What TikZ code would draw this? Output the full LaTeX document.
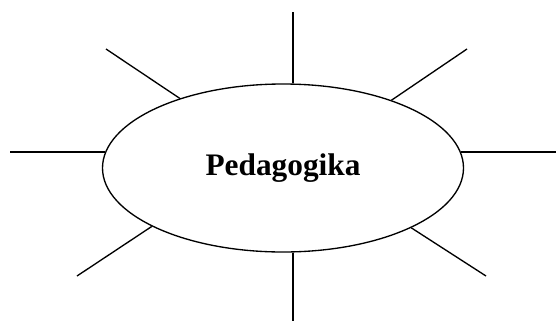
\documentclass[tikz,border=0pt]{standalone}
\usepackage{fontspec}
\setmainfont{Liberation Serif}
\usetikzlibrary{shapes,shapes.geometric,calc,positioning}
\tikzset{
  topic/.style={ellipse, draw, line width=1pt, inner sep=0pt,
    minimum width=270.75pt, minimum height=126pt,
    font=\bfseries\fontsize{23.5}{28}\selectfont}
}

\begin{document}
\begin{tikzpicture}[x=0.75pt, y=-0.75pt,
    spoke/.style={line width=1pt}
  ]
  \useasboundingbox (0,0) rectangle (557,322);

  \node[topic] (ped) at (283,168) {Pedagogika};

  \coordinate (n)  at (293,12);
  \coordinate (s)  at (293,321);
  \coordinate (w)  at (10,152);
  \coordinate (e)  at (556,152);
  \coordinate (nw) at (106,49);
  \coordinate (ne) at (467,49);
  \coordinate (sw) at (77,276);
  \coordinate (se) at (486,276);

  \draw[spoke] (n |- ped.north) -- (n);
  \draw[spoke] (s |- ped.south) -- (s);
  \draw[spoke] (ped.175 |- w) -- (w);
  \draw[spoke] (ped.5 |- e) -- (e);
  \draw[spoke] (ped.146) -- (nw);
  \draw[spoke] (ped.32) -- (ne);
  \draw[spoke] (ped.204) -- (sw);
  \draw[spoke] (ped.335) -- (se);
\end{tikzpicture}
\end{document}
